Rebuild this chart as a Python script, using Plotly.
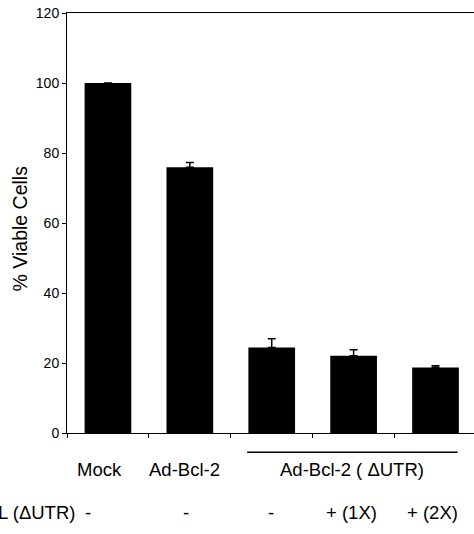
import plotly.graph_objects as go

categories = ["Mock", "Ad-Bcl-2", "Ad-Bcl-2 ΔUTR", "Ad-Bcl-2 ΔUTR + 1X", "Ad-Bcl-2 ΔUTR + 2X"]
viable = [100, 75.9, 24.4, 22.1, 18.7]
viable_err = [0, 1.4, 2.5, 1.7, 0.5]
row1_labels = ["Mock", "Ad-Bcl-2", "Ad-Bcl-2 ( ΔUTR)"]
row2_labels = ["-", "-", "-", "+ (1X)", "+ (2X)"]
row2_title = "L (ΔUTR)"
y_ticks = [0, 20, 40, 60, 80, 100, 120]

FONT = "Arial, Liberation Sans, sans-serif"
LBL = 18.5

fig = go.Figure()
fig.add_trace(go.Bar(
    x=categories, y=viable, width=0.57,
    marker=dict(color="black", line=dict(width=0)),
    error_y=dict(type="data", array=viable_err, arrayminus=[0] * len(viable_err),
                 symmetric=False, color="black", thickness=1.5, width=4),
))

ann = []
# row 1 labels
row1_pos = [(categories[0], -8), (categories[1], -5), (categories[3], -2)]
for (cat, dx), txt in zip(row1_pos, row1_labels):
    ann.append(dict(x=cat, xref="x", y=-0.088, yref="paper", text=txt, showarrow=False,
                    xanchor="center", yanchor="middle", xshift=dx,
                    font=dict(family=FONT, size=LBL, color="black")))
# row 2 labels
row2_shift = [-20, -4, -1, -2, -3]
for cat, txt, dx in zip(categories, row2_labels, row2_shift):
    ann.append(dict(x=cat, xref="x", y=-0.19, yref="paper", text=txt, showarrow=False,
                    xanchor="center", yanchor="middle", xshift=dx,
                    font=dict(family=FONT, size=LBL, color="black")))
ann.append(dict(x=0, xref="paper", y=-0.19, yref="paper", text=row2_title, showarrow=False,
                xanchor="left", yanchor="middle", xshift=-71,
                font=dict(family=FONT, size=LBL, color="black")))
# y title
ann.append(dict(x=0, xref="paper", y=0.487, yref="paper", text="% Viable Cells", showarrow=False,
                textangle=-90, xanchor="center", yanchor="middle", xshift=-47,
                font=dict(family=FONT, size=19.5, color="black")))

fig.update_layout(
    width=474, height=534,
    margin=dict(l=67, r=0, t=13, b=101),
    paper_bgcolor="white", plot_bgcolor="white",
    showlegend=False,
    annotations=ann,
    shapes=[dict(type="line", xref="x", yref="paper", x0=1.7, x1=4.27, y0=-0.046, y1=-0.046,
                 line=dict(color="black", width=1.5))],
    xaxis=dict(range=[-0.5, 4.47], showline=True, linecolor="black", linewidth=1, mirror=True,
               ticks="outside", tickson="boundaries", ticklen=4, tickcolor="black",
               showticklabels=False, showgrid=False, zeroline=False),
    yaxis=dict(range=[0, 120], tickvals=y_ticks, showline=True, linecolor="black", linewidth=1,
               ticks="outside", ticklen=4, tickcolor="black", showgrid=False, zeroline=False,
               ticklabeloverflow="allow",
               tickfont=dict(family=FONT, size=14, color="black")),
)

fig.write_html("out.html", config={"displayModeBar": False},
               post_script="document.body.style.margin='0';document.body.style.overflow='hidden';")
